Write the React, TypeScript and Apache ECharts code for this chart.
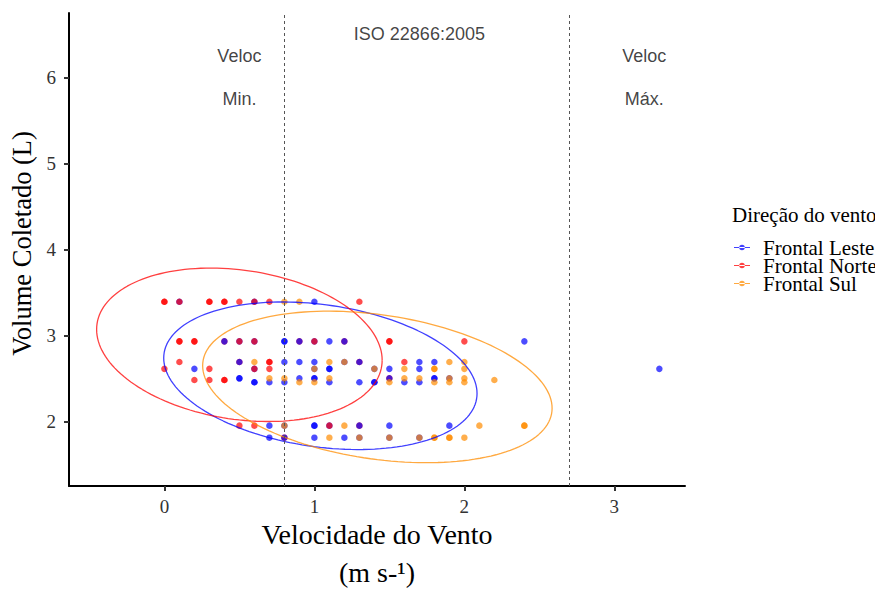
import React, { useEffect, useRef } from "react";
import * as echarts from "echarts";

// ---- Data (Velocidade do Vento [m s-1], Volume Coletado [L]) ----
const lestePoints: [number, number][] = [
  [0.1, 3.39], [0.6, 3.39], [1.0, 3.39],
  [0.5, 2.93], [0.6, 2.93], [0.8, 2.93], [0.8, 2.93], [1.0, 2.93], [1.1, 2.93], [2.4, 2.93],
  [0.8, 2.69], [0.9, 2.69], [1.0, 2.69], [1.2, 2.69], [1.7, 2.69], [1.8, 2.69],
  [0.2, 2.61], [0.6, 2.61], [1.0, 2.61], [1.1, 2.61], [1.1, 2.61], [1.4, 2.61], [1.5, 2.61], [1.7, 2.61], [3.3, 2.61],
  [0.5, 2.5], [0.5, 2.5], [0.9, 2.5], [1.0, 2.5], [1.0, 2.5], [1.8, 2.5], [1.8, 2.5], [1.9, 2.5],
  [0.6, 2.455], [0.6, 2.455], [0.7, 2.455], [0.8, 2.455], [1.1, 2.455], [1.3, 2.455], [1.4, 2.455], [1.4, 2.455], [1.6, 2.455], [1.7, 2.455],
  [0.7, 1.95], [0.8, 1.95], [1.0, 1.95], [1.0, 1.95], [1.1, 1.95], [1.5, 1.95], [1.9, 1.95],
  [0.7, 1.81], [1.0, 1.81], [1.2, 1.81], [1.3, 1.81], [1.5, 1.81], [1.7, 1.81],
];
// Frontal Leste observations drawn over Frontal Norte ones
const lesteTopPoints: [number, number][] = [
  [0.4, 2.93], [0.9, 2.93], [1.2, 2.93],
  [0.5, 2.69], [1.3, 2.69],
  [1.5, 2.5],
  [1.3, 1.95],
  [0.8, 1.81],
];
const nortePoints: [number, number][] = [
  [0.0, 3.39], [0.0, 3.39], [0.1, 3.39], [0.3, 3.39], [0.3, 3.39], [0.4, 3.39], [0.4, 3.39], [0.5, 3.39], [0.6, 3.39], [0.7, 3.39], [1.3, 3.39],
  [0.1, 2.93], [0.1, 2.93], [0.2, 2.93], [0.2, 2.93], [0.4, 2.93], [0.5, 2.93], [0.6, 2.93], [0.9, 2.93], [1.0, 2.93], [1.2, 2.93], [1.5, 2.93], [1.5, 2.93], [2.0, 2.93],
  [0.1, 2.69], [0.5, 2.69], [0.7, 2.69], [0.7, 2.69], [1.3, 2.69], [1.6, 2.69],
  [0.0, 2.61], [0.3, 2.61], [0.6, 2.61], [0.7, 2.61],
  [0.2, 2.48], [0.3, 2.48], [0.4, 2.48], [0.4, 2.48], [1.5, 2.5],
  [0.5, 1.95], [0.6, 1.95], [1.1, 1.95], [1.3, 1.95],
  [0.8, 1.81],
];
const sulPoints: [number, number][] = [
  [0.8, 3.39], [0.9, 3.39],
  [0.6, 2.69], [1.1, 2.69], [1.2, 2.69], [1.9, 2.69], [2.0, 2.69],
  [1.0, 2.61], [1.4, 2.61], [1.6, 2.61], [1.8, 2.61], [1.8, 2.61], [2.0, 2.61],
  [0.7, 2.5], [0.8, 2.5], [1.1, 2.5], [1.6, 2.5], [1.7, 2.5], [1.9, 2.5], [2.0, 2.5],
  [0.9, 2.455], [1.0, 2.455], [1.5, 2.455], [1.8, 2.455], [1.9, 2.455], [2.0, 2.455],
  [2.2, 2.48],
  [0.8, 1.95], [1.2, 1.95], [2.1, 1.95], [2.4, 1.95], [2.4, 1.95],
  [1.1, 1.81], [1.3, 1.81], [1.5, 1.81], [1.7, 1.81], [1.8, 1.81], [1.8, 1.81], [1.9, 1.81], [1.9, 1.81], [2.0, 1.81],
];

// 95% ellipse parameters (centre x, centre y, shape matrix xx, xy, yy)
const lesteEllipse = [1.04, 2.53, 1.091, -0.215, 0.736];
const norteEllipse = [0.5, 2.89, 0.906, -0.17, 0.796];
const sulEllipse = [1.42, 2.4, 1.357, -0.288, 0.776];

const groupNames = ["Frontal Leste", "Frontal Norte", "Frontal Sul"];
const groupColors = ["#0000FF", "#FF0000", "#FF8C00"];

const referenceLines = [0.8, 2.7];
const annotationX = [0.5, 3.2, 1.7];
const annotationY = [6, 6, 6.5];
const annotationText = ["Veloc\n\nMin.", "Veloc\n\nMáx.", "ISO 22866:2005"];

const xTicks = [0, 1, 2, 3];
const yTicks = [2, 3, 4, 5, 6];

function ellipsePoints(e: number[]): [number, number][] {
  const [cx, cy, sxx, sxy, syy] = e;
  const l11 = Math.sqrt(sxx);
  const l21 = sxy / l11;
  const l22 = Math.sqrt(syy - l21 * l21);
  const pts: [number, number][] = [];
  const n = 160;
  for (let i = 0; i <= n; i++) {
    const t = (2 * Math.PI * i) / n;
    pts.push([cx + l11 * Math.cos(t), cy + l21 * Math.cos(t) + l22 * Math.sin(t)]);
  }
  return pts;
}

const SERIF = "Liberation Serif";
const SANS = "Liberation Sans";
const legendIcon =
  "path://M0,3.45h16v1.1h-16z M5.2,4a2.8,2.8 0 1,0 5.6,0a2.8,2.8 0 1,0 -5.6,0z";

export default function App() {
  const ref = useRef<HTMLDivElement>(null);
  useEffect(() => {
    if (!ref.current) return;
    const chart = echarts.init(ref.current, undefined, { renderer: "svg" });
    const scatter = (name: string, color: string, data: [number, number][]) => ({
      type: "scatter",
      name,
      data,
      symbolSize: 6.5,
      itemStyle: { color, opacity: 0.7 },
      silent: true,
    });
    const ellipse = (name: string, color: string, e: number[]) => ({
      type: "line",
      name,
      data: ellipsePoints(e),
      showSymbol: false,
      symbol: "none",
      smooth: false,
      lineStyle: { color, width: 1.3, opacity: 0.75 },
      silent: true,
    });
    chart.setOption({
      animation: false,
      title: {
        text: "Direção do vento",
        left: 724,
        top: 196,
        padding: 0,
        textStyle: { fontFamily: SERIF, fontSize: 21, fontWeight: "normal", color: "#000" },
      },
      legend: {
        orient: "vertical",
        left: 721,
        top: 224,
        itemGap: -3,
        itemWidth: 16,
        itemHeight: 8,
        selectedMode: false,
        textStyle: {
          fontFamily: SERIF,
          fontSize: 21,
          lineHeight: 18,
          color: "#000",
          padding: [0, 0, 0, 8],
        },
        data: groupNames.map((n, i) => ({
          name: n,
          icon: legendIcon,
          itemStyle: { color: groupColors[i], opacity: 0.75 },
        })),
      },
      grid: {
        left: 61,
        right: 198,
        top: 5,
        bottom: 104,
        containLabel: false,
        outerBoundsMode: "none",
      },
      xAxis: {
        type: "value",
        min: -0.636,
        max: 3.471,
        name: "{a|Velocidade do Vento}\n{b|(m s-¹)}",
        nameLocation: "middle",
        nameGap: 27,
        nameMoveOverlap: false,
        nameTextStyle: {
          fontFamily: SERIF,
          fontSize: 28,
          color: "#000",
          rich: {
            a: { fontFamily: SERIF, fontSize: 28, lineHeight: 43, color: "#000" },
            b: { fontFamily: SERIF, fontSize: 28, lineHeight: 24, padding: [9.5, 0, 0, 0], color: "#000" },
          },
        },
        axisLine: { show: true, onZero: false, lineStyle: { color: "#000", width: 2 } },
        axisTick: { show: true, length: 5, customValues: xTicks, lineStyle: { color: "#333", width: 2 } },
        axisLabel: {
          customValues: xTicks,
          margin: 11,
          fontFamily: SERIF,
          fontSize: 19,
          color: "#333",
        },
        splitLine: { show: false },
      },
      yAxis: {
        type: "value",
        min: 1.248,
        max: 6.748,
        name: "Volume Coletado (L)",
        nameLocation: "middle",
        nameGap: 34,
        nameRotate: 90,
        nameTextStyle: {
          fontFamily: SERIF,
          fontSize: 26.5,
          color: "#000",
          padding: [0, 0, 0, 12],
        },
        axisLine: { show: true, onZero: false, lineStyle: { color: "#000", width: 2 } },
        axisTick: { show: true, length: 5, customValues: yTicks, lineStyle: { color: "#333", width: 2 } },
        axisLabel: {
          customValues: yTicks,
          margin: 13,
          fontFamily: SERIF,
          fontSize: 19,
          color: "#333",
        },
        splitLine: { show: false },
      },
      series: [
        scatter(groupNames[0], groupColors[0], lestePoints),
        scatter(groupNames[1], groupColors[1], nortePoints),
        scatter(groupNames[0], groupColors[0], lesteTopPoints),
        scatter(groupNames[2], groupColors[2], sulPoints),
        ellipse(groupNames[0], groupColors[0], lesteEllipse),
        ellipse(groupNames[1], groupColors[1], norteEllipse),
        ellipse(groupNames[2], groupColors[2], sulEllipse),
        {
          type: "scatter",
          name: "refLines",
          data: [],
          silent: true,
          markLine: {
            silent: true,
            symbol: ["none", "none"],
            label: { show: false },
            lineStyle: { color: "#555", width: 1, type: [3, 3] },
            data: referenceLines.map((v) => ({ xAxis: v })),
          },
        },
        {
          type: "scatter",
          name: "annotations",
          silent: true,
          symbolSize: 0,
          data: annotationX.map((x, i) => [x, annotationY[i], annotationText[i]]),
          label: {
            show: true,
            position: "inside",
            formatter: (p: any) => p.data[2],
            fontFamily: SANS,
            fontSize: 18,
            lineHeight: 21.5,
            color: "#111",
          },
        },
      ],
    });
    return () => chart.dispose();
  }, []);
  return <div ref={ref} style={{ width: 875, height: 582 }} />;
}
